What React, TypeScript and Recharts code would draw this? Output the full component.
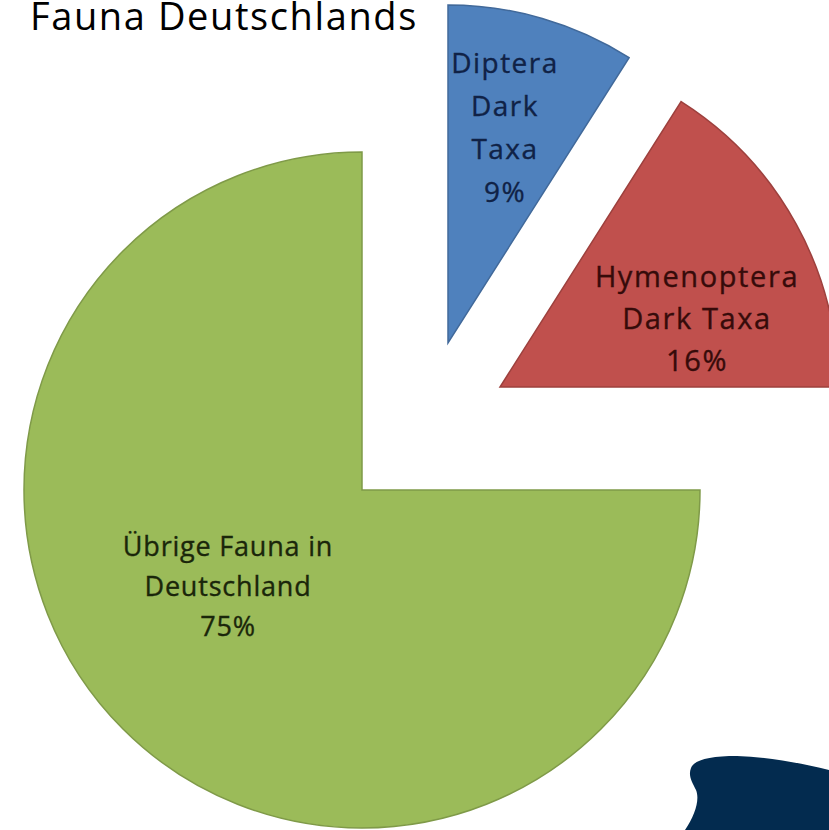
import { Cell, Pie, PieChart } from "recharts";

const categories = ["Diptera Dark Taxa", "Hymenoptera Dark Taxa", "Übrige Fauna in Deutschland"];
const shares = [9, 16, 75];
const labelLines = [["Diptera", "Dark", "Taxa"], ["Hymenoptera", "Dark Taxa"], ["Übrige Fauna in", "Deutschland"]];

const data = categories.map((name, i) => ({ name, value: shares[i] }));

const FILLS = ["#4f81bd", "#c0504d", "#9bbb59"];
const EDGES = ["#41699a", "#9d403d", "#7f9a48"];
const TEXT = ["#102246", "#360b0a", "#1a260a"];

// exploded slice centres (inside the 5px chart margin), and label blocks relative to them
const CENTERS = [
  [443, 338],
  [495, 382],
  [357, 485],
];
const LABEL_POS = [
  { dx: 57, dy: -270, step: 43, size: 28, ls: 1.5 },
  { dx: 197, dy: -100, step: 42, size: 29, ls: 1.6 },
  { dx: -134, dy: 66, step: 40, size: 27, ls: 0.8 },
];
const RADIUS = 338;

function sliceLabel(slice: number) {
  return (props: any) => {
    if (props.index !== slice) return null;
    const p = LABEL_POS[slice];
    const x = props.cx + p.dx;
    const lines = [...labelLines[slice], `${props.value}%`];
    return (
      <text
        x={x}
        y={props.cy + p.dy}
        textAnchor="middle"
        fill={TEXT[slice]}
        stroke={TEXT[slice]}
        strokeWidth={0.35}
        style={{ fontFamily: "'Open Sans', sans-serif", fontSize: p.size, letterSpacing: p.ls }}
      >
        {lines.map((l, i) => (
          <tspan key={i} x={x} dy={i === 0 ? 0 : p.step}>
            {l}
          </tspan>
        ))}
      </text>
    );
  };
}

export default function App() {
  return (
    <div style={{ position: "absolute", left: 0, top: 0, width: 829, height: 830, background: "#fff", overflow: "hidden" }}>
      <div
        style={{
          position: "absolute",
          left: 30,
          top: -11,
          fontFamily: "'Open Sans', sans-serif",
          fontSize: 38,
          lineHeight: "normal",
          letterSpacing: 1.6,
          color: "#000",
          whiteSpace: "nowrap",
        }}
      >
        Fauna Deutschlands
      </div>
      <PieChart width={829} height={830} style={{ position: "absolute", left: 0, top: 0 }}>
        {CENTERS.map(([cx, cy], s) => (
          <Pie
            key={s}
            data={data}
            dataKey="value"
            nameKey="name"
            cx={cx}
            cy={cy}
            outerRadius={RADIUS}
            startAngle={90}
            endAngle={-270}
            labelLine={false}
            label={sliceLabel(s)}
            isAnimationActive={false}
          >
            {data.map((d, i) => (
              <Cell
                key={d.name}
                fill={i === s ? FILLS[i] : "transparent"}
                stroke={i === s ? EDGES[i] : "none"}
                strokeWidth={1.5}
              />
            ))}
          </Pie>
        ))}
      </PieChart>
      <svg width={829} height={830} style={{ position: "absolute", left: 0, top: 0, pointerEvents: "none" }}>
        <path
          d="M 685 830 C 695 815, 700 800, 696 790 C 692 782, 688 776, 691 768 C 694 760, 710 756, 737 756 C 770 757, 800 763, 829 770 L 829 830 Z"
          fill="#032b4f"
        />
      </svg>
    </div>
  );
}
